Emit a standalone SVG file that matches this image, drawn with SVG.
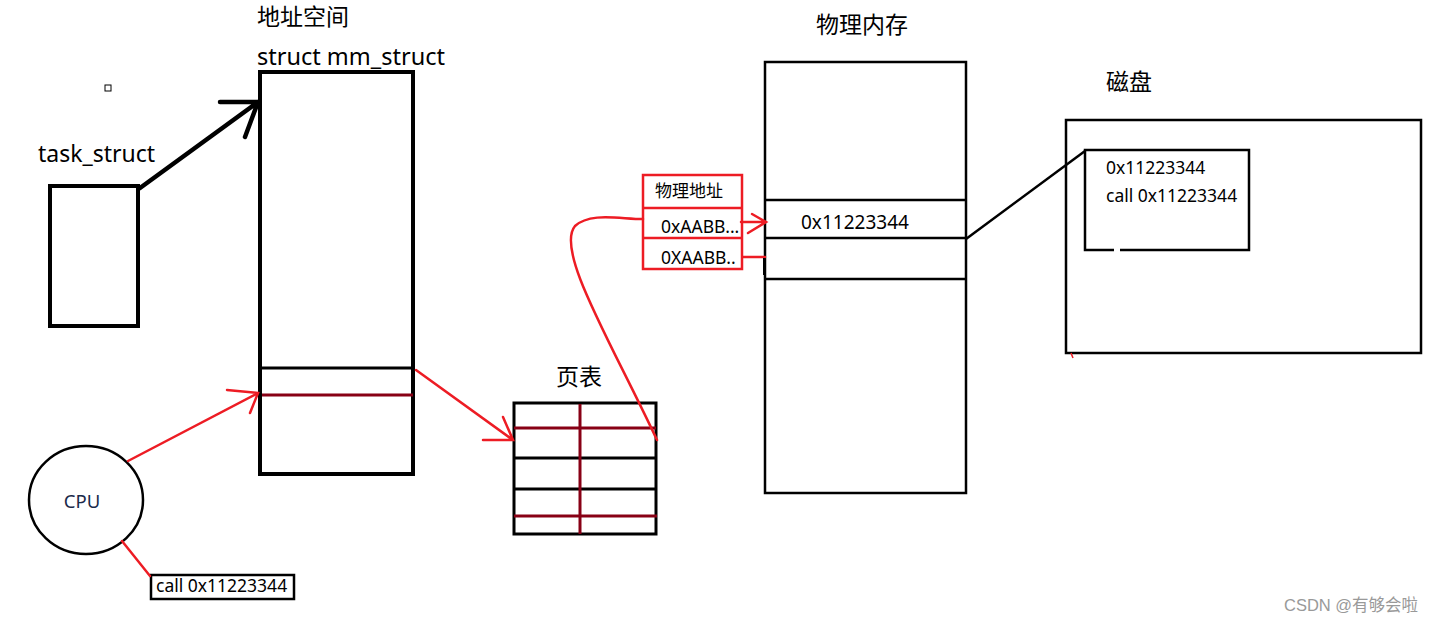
<svg xmlns="http://www.w3.org/2000/svg" width="1436" height="623" viewBox="0 0 1436 623">
<style>
.t{font-family:"Noto Sans","Noto Sans CJK SC",sans-serif;fill:#000}
.h{font-size:23px}
.blk{fill:none;stroke:#000}
.red{fill:none;stroke:#ed1c24;stroke-width:2.5;stroke-linecap:round}
.dr{stroke:#880015;stroke-width:3}
</style>
<rect width="1436" height="623" fill="#fff"/>
<rect x="105" y="85" width="6" height="6" fill="none" stroke="#000" stroke-width="1"/>
<g id="task_struct">
<text class="t" x="38" y="162" font-size="23">task_struct</text>
<rect class="blk" x="50" y="186" width="88" height="140" stroke-width="4"/>
</g>
<g id="mm_struct">
<text class="t h" x="257" y="25">地址空间</text>
<text class="t" x="257" y="65" font-size="23.5">struct mm_struct</text>
<rect class="blk" x="260" y="72" width="153" height="402" stroke-width="4"/>
<line x1="260" y1="368" x2="413" y2="368" stroke="#000" stroke-width="3"/>
<line class="dr" x1="262" y1="395" x2="413" y2="395"/>
</g>
<g id="cpu">
<ellipse class="blk" cx="86" cy="500" rx="57" ry="54" stroke-width="2.5"/>
<text x="82" y="508" font-size="18.5" text-anchor="middle" font-family="Noto Sans,sans-serif" fill="#1a2a4a">CPU</text>
</g>
<g id="call">
<rect class="blk" x="151" y="575" width="143" height="24" stroke-width="2.5"/>
<text class="t" x="156" y="592" font-size="17.5">call 0x11223344</text>
</g>
<g id="pagetable">
<text class="t h" x="556" y="385">页表</text>
<rect class="blk" x="514" y="403" width="142" height="131" stroke-width="3"/>
<line class="dr" x1="514" y1="428" x2="656" y2="428"/>
<line x1="514" y1="458" x2="656" y2="458" stroke="#000" stroke-width="3"/>
<line x1="514" y1="489" x2="656" y2="489" stroke="#000" stroke-width="3"/>
<line class="dr" x1="514" y1="516" x2="657" y2="516"/>
<line class="dr" x1="580" y1="404" x2="580" y2="534"/>
</g>
<g id="physaddr">
<rect x="643" y="175" width="99" height="94" fill="none" stroke="#ed1c24" stroke-width="2.5"/>
<line x1="643" y1="208" x2="742" y2="208" stroke="#ed1c24" stroke-width="2.5"/>
<line x1="643" y1="238" x2="742" y2="238" stroke="#ed1c24" stroke-width="2.5"/>
<text class="t" x="655" y="197" font-size="17">物理地址</text>
<text class="t" x="661" y="233" font-size="17.5">0xAABB...</text>
<text class="t" x="661" y="264" font-size="17.5">0XAABB..</text>
</g>
<g id="physmem">
<text class="t h" x="816" y="33">物理内存</text>
<rect class="blk" x="765" y="62" width="201" height="431" stroke-width="2.5"/>
<line x1="765" y1="200" x2="966" y2="200" stroke="#000" stroke-width="2.5"/>
<line x1="765" y1="238" x2="966" y2="238" stroke="#000" stroke-width="2.5"/>
<line x1="765" y1="279" x2="966" y2="279" stroke="#000" stroke-width="2.5"/>
<text class="t" x="801" y="229" font-size="19">0x11223344</text>
</g>
<g id="disk">
<text class="t h" x="1106" y="90">磁盘</text>
<rect class="blk" x="1066" y="120" width="355" height="233" stroke-width="2.5"/>
<path class="blk" d="M1114,250 H1085 V150 H1249 V250 H1120" stroke-width="2.5"/>
<text class="t" x="1106" y="174" font-size="17.5">0x11223344</text>
<text class="t" x="1106" y="202" font-size="17.5">call 0x11223344</text>
<line x1="1071" y1="353" x2="1073" y2="358" stroke="#ed1c24" stroke-width="1.5"/>
</g>
<g id="connectors">
<path d="M140,188 L258,102 M220,102 H258 L245,137" fill="none" stroke="#000" stroke-width="4.5" stroke-linecap="round" stroke-linejoin="round"/>
<path class="red" d="M128,461 L258,393 M227,390 L258,393 L250,413"/>
<line class="red" x1="122" y1="541" x2="150" y2="576"/>
<path class="red" d="M416,370 L513,440 M483,440 H513 L503,417"/>
<path class="red" d="M657,440 C610,340 555,250 575,226 C590,212 620,219 643,219"/>
<path class="red" d="M741,222 H766 M752,214 L766,222 L748,233"/>
<path class="red" d="M743,257 H765"/>
<line x1="764" y1="258" x2="764" y2="275" stroke="#000" stroke-width="2"/>
<line x1="966" y1="239" x2="1085" y2="151" stroke="#000" stroke-width="2.5"/>
</g>
<text x="1284" y="611" font-size="16.5" font-family="Liberation Sans,Noto Sans CJK SC,sans-serif" fill="#999">CSDN @有够会啦</text>
</svg>
